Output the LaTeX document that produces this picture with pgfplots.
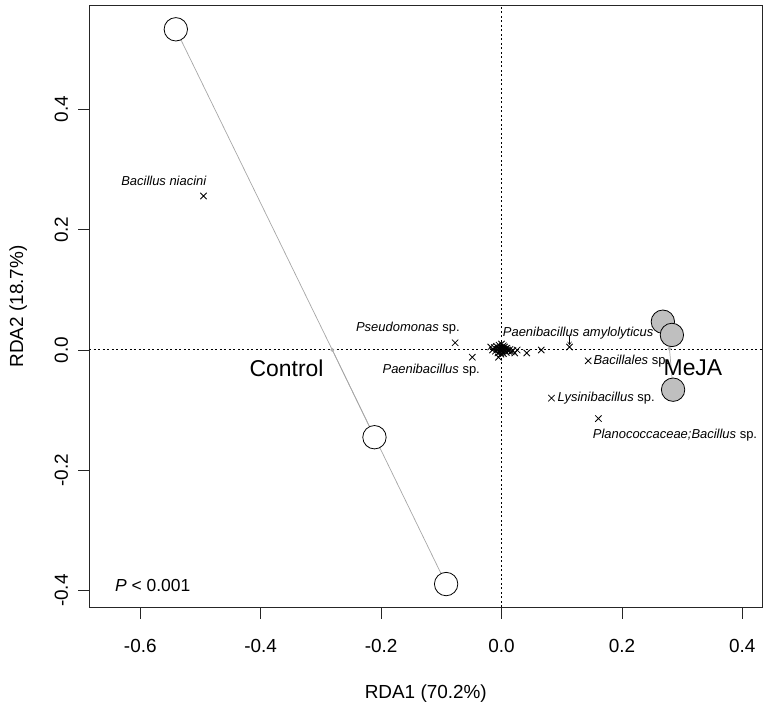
\documentclass[border=0pt]{standalone}
\usepackage{pgfplots}
\pgfplotsset{compat=1.18}
\usetikzlibrary{arrows.meta}
\usepackage{fontspec}
\setmainfont{Liberation Sans}
\begin{document}
\begin{tikzpicture}
\begin{axis}[
  scale only axis, width=673bp, height=602.7bp,
  xmin=-0.6847, xmax=0.4332, ymin=-0.4283, ymax=0.5734,
  axis line style={line width=0.9pt, black!85},
  tick align=outside, major tick length=11bp,
  tick style={line width=0.8pt, black!85},
  xtick pos=bottom, ytick pos=left,
  xtick={-0.6,-0.4,-0.2,0,0.2,0.4},
  xticklabels={-0.6,-0.4,-0.2,0.0,0.2,0.4},
  ytick={-0.4,-0.2,0,0.2,0.4},
  yticklabels={-0.4,-0.2,0.0,0.2,0.4},
  tick label style={font=\fontsize{19}{22}\selectfont},
  xticklabel style={anchor=center}, xticklabel shift=27bp,
  yticklabel style={rotate=90, anchor=center}, yticklabel shift=17bp,
  xlabel={RDA1 (70.2\%)}, ylabel={RDA2 (18.7\%)},
  label style={font=\fontsize{19}{22}\selectfont},
  xlabel style={at={(axis description cs:0.5,-0.143)}, anchor=center},
  ylabel style={at={(axis description cs:-0.1055,0.5)}, anchor=center, rotate=0},
  clip=true,
]
% reference lines
\addplot[dash pattern=on 2bp off 2.5bp, line width=1pt, black] coordinates {(-0.7,0) (0.45,0)};
\addplot[dash pattern=on 2bp off 2.5bp, line width=1pt, black] coordinates {(0,-0.45) (0,0.6)};
% spider lines Control
\addplot[gray!70, line width=0.7pt] coordinates {(-0.281,0.000) (-0.541,0.533)};
\addplot[gray!70, line width=0.7pt] coordinates {(-0.281,0.000) (-0.211,-0.145)};
\addplot[gray!70, line width=0.7pt] coordinates {(-0.281,0.000) (-0.092,-0.389)};
% spider lines MeJA
\addplot[gray!70, line width=0.7pt] coordinates {(0.279,0.002) (0.268,0.047)};
\addplot[gray!70, line width=0.7pt] coordinates {(0.279,0.002) (0.283,0.025)};
\addplot[gray!70, line width=0.7pt] coordinates {(0.279,0.002) (0.285,-0.066)};
% centroids
\addplot[only marks, mark=*, mark size=1.8bp, gray!60] coordinates {(-0.281,0.000) (0.279,0.002)};
% species
\addplot[only marks, mark=x, mark size=4.5bp, line width=0.8pt, black] coordinates {
(-0.495,0.256) (-0.077,0.012) (-0.0485,-0.012) (0.042,-0.005) (0.066,0.000)
(0.113,0.005) (0.144,-0.018) (0.083,-0.080) (0.161,-0.114)
(-0.012,0.004) (-0.010,-0.002) (-0.008,0.006) (-0.006,-0.005) (-0.005,0.002)
(-0.004,0.008) (-0.003,-0.003) (-0.002,0.001) (-0.001,0.004) (0,0)
(0.001,-0.002) (0.002,0.003) (0.003,-0.006) (0.004,0.001) (0.005,0.005)
(0.006,-0.001) (0.007,0.002) (0.008,-0.004) (0.009,0.003) (0.010,0.000)
(0.012,-0.002) (0.014,0.001) (0.016,-0.003) (0.019,-0.001) (0.022,-0.005)
(0.026,0.000) (-0.005,-0.012) (0.000,0.010) (-0.015,0.000) (-0.018,0.005)
(0.003,0.007) (-0.007,0.001) (0.001,0.005) (-0.001,-0.007)
};
% sites
\addplot[only marks, mark=*, mark size=11.7bp, mark options={fill=white, draw=black, line width=0.8pt}]
 coordinates {(-0.541,0.533) (-0.211,-0.145) (-0.092,-0.389)};
\addplot[only marks, mark=*, mark size=11.7bp, mark options={fill=black!25, draw=black, line width=0.8pt}]
 coordinates {(0.268,0.047) (0.283,0.025) (0.285,-0.066)};
% labels
\begin{scope}[every node/.style={font=\fontsize{13}{15}\selectfont, inner sep=0pt}]
\node[anchor=east] at (axis cs:-0.4896,0.281) {\textit{Bacillus niacini}};
\node[anchor=east] at (axis cs:-0.069,0.037) {\textit{Pseudomonas} sp.};
\node[anchor=east] at (axis cs:-0.0357,-0.034) {\textit{Paenibacillus} sp.};
\node[anchor=west] at (axis cs:0.002,0.028) {\textit{Paenibacillus amylolyticus}};
\node[anchor=west] at (axis cs:0.1525,-0.018) {\textit{Bacillales} sp.};
\node[anchor=west] at (axis cs:0.093,-0.080) {\textit{Lysinibacillus} sp.};
\node[anchor=west] at (axis cs:0.1515,-0.141) {\textit{Planococcaceae;Bacillus} sp.};
\end{scope}
\draw[-{Straight Barb[length=3bp,width=4bp]}, line width=0.5pt] (axis cs:0.113,0.023) -- (axis cs:0.113,0.008);
\node[font=\fontsize{23}{27}\selectfont, inner sep=0pt] at (axis cs:-0.357,-0.030) {Control};
\node[font=\fontsize{23}{27}\selectfont, inner sep=0pt] at (axis cs:0.318,-0.030) {MeJA};
\node[font=\fontsize{17.5}{21}\selectfont, anchor=base west, inner sep=0pt] at (axis cs:-0.642,-0.401) {\textit{P} < 0.001};
\coordinate (bl) at (rel axis cs:0,0);
\coordinate (tr) at (rel axis cs:1,1);
\end{axis}
\path (bl) ++(-89.3bp,-100.3bp) coordinate (BL);
\path (tr) ++(5.7bp,5bp) coordinate (TR);
\path (BL) rectangle (TR);
\end{tikzpicture}
\end{document}
